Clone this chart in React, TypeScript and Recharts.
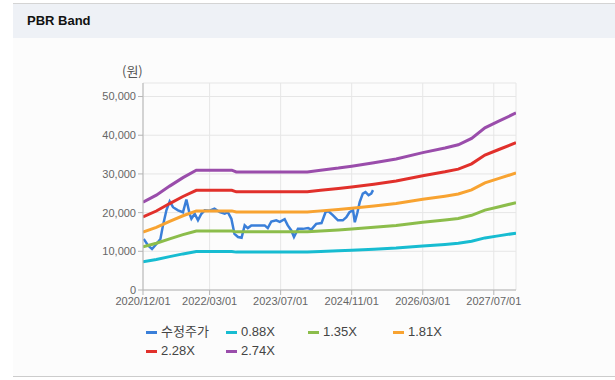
import React from "react";
import { LineChart, Line, XAxis, YAxis, CartesianGrid, Legend } from "recharts";

const tickMonths = [0, 15, 31, 47, 63, 79];
const tickLabels = ["2020/12/01", "2022/03/01", "2023/07/01", "2024/11/01", "2026/03/01", "2027/07/01"];
const yTicks = [0, 10000, 20000, 30000, 40000, 50000];

const bandMonths = [0, 3, 6, 9, 12, 20, 21, 37, 40, 44, 47, 52, 57, 63, 68, 71, 74, 77, 80, 84];
const band088 = [7290, 7880, 8620, 9330, 9940, 9940, 9790, 9790, 9940, 10120, 10280, 10560, 10870, 11400, 11790, 12060, 12580, 13460, 13990, 14700];
const band135 = [11180, 12080, 13230, 14310, 15260, 15260, 15030, 15030, 15260, 15530, 15770, 16200, 16670, 17500, 18090, 18500, 19310, 20660, 21470, 22550];
const band181 = [14990, 16200, 17740, 19190, 20450, 20450, 20150, 20150, 20450, 20820, 21140, 21720, 22350, 23460, 24250, 24800, 25880, 27690, 28780, 30230];
const band228 = [18880, 20410, 22340, 24170, 25760, 25760, 25380, 25380, 25760, 26220, 26630, 27360, 28160, 29550, 30550, 31240, 32600, 34880, 36250, 38080];
const band274 = [22690, 24520, 26850, 29040, 30960, 30960, 30500, 30500, 30960, 31510, 32000, 32880, 33840, 35510, 36720, 37540, 39180, 41920, 43570, 45760];

const priceMonths = [0.16, 1.13, 2.03, 3.02, 3.92, 4.5, 5.27, 6.01, 6.76, 7.88, 9.0, 9.77, 10.5, 10.9, 11.64, 12.38, 13.15, 13.9, 15.0, 16.1, 17.3, 18.4, 19.1, 19.9, 20.6, 21.4, 22.2, 22.9, 23.6, 24.4, 25.9, 27.4, 28.1, 28.9, 30.0, 30.8, 31.9, 32.6, 33.4, 34.0, 34.9, 36.0, 37.2, 37.9, 39.0, 40.2, 41.1, 41.7, 42.8, 43.9, 45.0, 45.8, 46.5, 47.3, 47.7, 48.3, 48.8, 49.5, 50.1, 50.8, 51.4, 51.8];
const priceValues = [13200, 11500, 10600, 11900, 13200, 16700, 20600, 22900, 21400, 20600, 20100, 23400, 19700, 18400, 19700, 18000, 19700, 20600, 20500, 21000, 20100, 19700, 20100, 18400, 14500, 13700, 13500, 16700, 16000, 16700, 16700, 16700, 16000, 17700, 18000, 17600, 18300, 16700, 15400, 13700, 15800, 15800, 16000, 15600, 17100, 17300, 20100, 20400, 19300, 18000, 18000, 18800, 20100, 20600, 17500, 20100, 22700, 24900, 25300, 24500, 24900, 25800];

const seriesNames = ["수정주가", "0.88X", "1.35X", "1.81X", "2.28X", "2.74X"];
const seriesColors = ["#3a7fd9", "#17bcd1", "#8cbd4b", "#f8a331", "#e1302b", "#9a4dab"];

const bandData = bandMonths.map((m, i) => ({
  m,
  b088: band088[i],
  b135: band135[i],
  b181: band181[i],
  b228: band228[i],
  b274: band274[i],
}));
const priceData = priceMonths.map((m, i) => ({ m, price: priceValues[i] }));

const fontStack = "'Liberation Sans', Arial, 'Noto Sans CJK KR', sans-serif";

const legendLefts = [0, 80, 162, 247, 0, 80];
const legendRows = [0, 0, 0, 0, 1, 1];

const renderLegend = () => (
  <div style={{ position: "relative", width: 340, height: 40, fontFamily: fontStack }}>
    {seriesNames.map((name, i) => (
      <div
        key={name}
        style={{
          position: "absolute",
          left: legendLefts[i],
          top: legendRows[i] * 19,
          display: "flex",
          alignItems: "center",
          whiteSpace: "nowrap",
          fontSize: 13,
          color: "#444",
          lineHeight: "18px",
        }}
      >
        <span style={{ display: "inline-block", width: 11, height: 3, background: seriesColors[i], marginRight: 4 }} />
        <span>{name}</span>
      </div>
    ))}
  </div>
);

const fmt = (v: number) => v.toLocaleString("en-US");

export default function App() {
  return (
    <div style={{ position: "absolute", left: 0, top: 0, width: 615, height: 380, background: "#fff", fontFamily: fontStack }}>
      <div style={{ position: "absolute", left: 13, top: 3, width: 602, height: 1, background: "#d4d4d4" }} />
      <div style={{ position: "absolute", left: 13, top: 4, width: 602, height: 34, background: "#eef1f6" }} />
      <div style={{ position: "absolute", left: 27, top: 13, fontSize: 13, fontWeight: "bold", color: "#111" }}>PBR Band</div>
      <div style={{ position: "absolute", left: 13, top: 38, width: 602, height: 338, background: "#fcfcfc" }} />
      <div style={{ position: "absolute", left: 13, top: 376, width: 602, height: 1, background: "#cccccc" }} />
      <div style={{ position: "absolute", left: 122, top: 61, fontSize: 13, color: "#555", fontFamily: "'Noto Sans CJK KR', sans-serif" }}>(원)</div>
      <div style={{ position: "absolute", left: 0, top: 0 }}>
        <LineChart width={615} height={380} data={bandData} margin={{ top: 83, right: 99, left: 0, bottom: 60 }}>
          <CartesianGrid stroke="#e6e6e6" />
          <XAxis
            dataKey="m"
            type="number"
            domain={[0, 84]}
            ticks={tickMonths}
            tickFormatter={(v: number) => tickLabels[tickMonths.indexOf(v)] ?? ""}
            height={30}
            tickSize={5}
            stroke="#b5b5b5"
            tick={{ fill: "#666", fontSize: 11 }}
            interval={0}
            allowDataOverflow
          />
          <XAxis xAxisId="top" orientation="top" dataKey="m" type="number" domain={[0, 84]} height={0} tick={false} tickLine={false} stroke="#c4c4c4" />
          <YAxis
            domain={[0, 53500]}
            ticks={yTicks}
            tickFormatter={fmt}
            width={143}
            tickSize={5}
            stroke="#b5b5b5"
            tick={{ fill: "#666", fontSize: 11 }}
            interval={0}
            allowDataOverflow
          />
          <YAxis yAxisId="right" orientation="right" domain={[0, 53500]} width={0} tick={false} tickLine={false} stroke="#c4c4c4" />
          <Legend
            layout="horizontal"
            verticalAlign="middle"
            align="center"
            content={renderLegend}
            wrapperStyle={{ top: 323, left: 146, width: 340, height: 40 }}
          />
          <Line data={priceData} dataKey="price" name={seriesNames[0]} stroke={seriesColors[0]} strokeWidth={2.5} dot={false} isAnimationActive={false} type="linear" />
          <Line dataKey="b088" name={seriesNames[1]} stroke={seriesColors[1]} strokeWidth={3} dot={false} isAnimationActive={false} type="linear" />
          <Line dataKey="b135" name={seriesNames[2]} stroke={seriesColors[2]} strokeWidth={3} dot={false} isAnimationActive={false} type="linear" />
          <Line dataKey="b181" name={seriesNames[3]} stroke={seriesColors[3]} strokeWidth={3} dot={false} isAnimationActive={false} type="linear" />
          <Line dataKey="b228" name={seriesNames[4]} stroke={seriesColors[4]} strokeWidth={3} dot={false} isAnimationActive={false} type="linear" />
          <Line dataKey="b274" name={seriesNames[5]} stroke={seriesColors[5]} strokeWidth={3} dot={false} isAnimationActive={false} type="linear" />
        </LineChart>
      </div>
    </div>
  );
}
